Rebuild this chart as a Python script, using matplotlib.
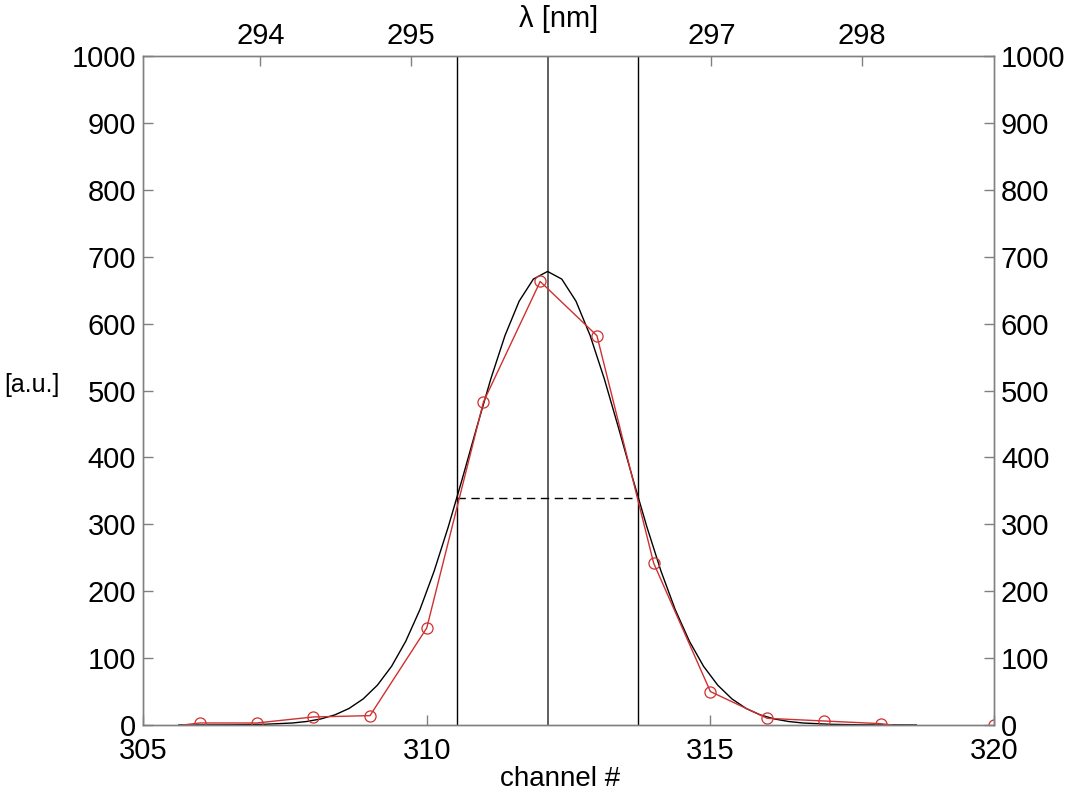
import numpy as np
import matplotlib
matplotlib.use("Agg")
import matplotlib.pyplot as plt

# measured channel intensities (red, open circles)
ch = [306, 307, 308, 309, 310, 311, 312, 313, 314, 315, 316, 317, 318]
meas = [3, 3, 12, 14, 145, 483, 663, 582, 242, 50, 10, 6, 2]
# red polyline incl. its short flat ends
red_x = [305.7] + ch + [318.2]
red_y = [0] + meas + [0]
extra_x, extra_y = [320], [0]

fit_x = [305.63, 306.13, 306.63, 307.13, 307.63, 307.88, 308.13, 308.38, 308.63, 308.88,
         309.13, 309.38, 309.63, 309.88, 310.13, 310.38, 310.63, 310.88, 311.13, 311.38,
         311.63, 311.88, 312.13, 312.38, 312.63, 312.88, 313.13, 313.38, 313.63, 313.88,
         314.13, 314.38, 314.63, 314.88, 315.13, 315.38, 315.63, 315.88, 316.13, 316.38,
         316.63, 317.13, 317.63, 318.13, 318.63]
fit_y = [0.0, 0.1, 0.3, 1.0, 3.0, 5.2, 9.0, 15.1, 24.7, 39.0,
         59.5, 87.7, 125.2, 172.5, 229.9, 296.3, 369.0, 444.4, 517.5, 582.3,
         633.7, 666.6, 678.0, 666.6, 633.7, 582.3, 517.5, 444.4, 369.0, 296.3,
         229.9, 172.5, 125.2, 87.7, 59.5, 39.0, 24.7, 15.1, 9.0, 5.2,
         3.0, 1.0, 0.3, 0.1, 0.0]

fwhm_lo, peak, fwhm_hi, half = 310.53, 312.13, 313.73, 340
lam_ticks = [294, 295, 297, 298]
lam_lim = (293.22, 298.88)
yticks = list(range(0, 1001, 100))

plt.rcParams.update({"font.family": ["Liberation Sans", "DejaVu Sans"], "font.size": 21,
                     "axes.edgecolor": "#808080", "axes.linewidth": 1.0,
                     "xtick.color": "#808080", "ytick.color": "#808080",
                     "xtick.labelcolor": "black", "ytick.labelcolor": "black"})
fig = plt.figure(figsize=(10.84, 7.96), dpi=100)
ax = fig.add_axes([0.132, 0.0892, 0.785, 0.8404])

for xv in (fwhm_lo, fwhm_hi):
    ax.axvline(xv, color="black", lw=1.0)
ax.axvline(peak, color="#606060", lw=1.4)
ax.plot([fwhm_lo, fwhm_hi], [half, half], color="black", lw=1.0, ls=(0, (6, 4)))
ax.plot(fit_x, fit_y, color="black", lw=1.0)
ax.plot(red_x, red_y, color="#d03030", lw=1.0)
ax.plot(ch, meas, "o", mfc="none", mec="#d03030", ms=8, mew=0.9)
ax.plot(extra_x, extra_y, "o", mfc="none", mec="#d03030", ms=8, mew=0.9)

ax.set_xlim(305, 320); ax.set_ylim(0, 1000)
ax.set_xticks([305, 310, 315, 320]); ax.set_yticks(yticks)
ax.tick_params(direction="in", length=7, width=1)
ax.tick_params(axis="x", pad=9)
ax.tick_params(axis="y", pad=5, right=True, labelright=True)

ax2 = ax.twiny()
ax2.set_xlim(*lam_lim); ax2.set_xticks(lam_ticks)
ax2.tick_params(direction="in", length=7, width=1, pad=4)

fig.text(0.515, 0.976, "λ [nm]", fontsize=21, ha="center", va="center")
fig.text(0.517, 0.021, "channel #", fontsize=20, ha="center", va="center")
fig.text(0.004, 0.516, "[a.u.]", fontsize=18, ha="left", va="center")

fig.savefig("out.png", dpi=100)
